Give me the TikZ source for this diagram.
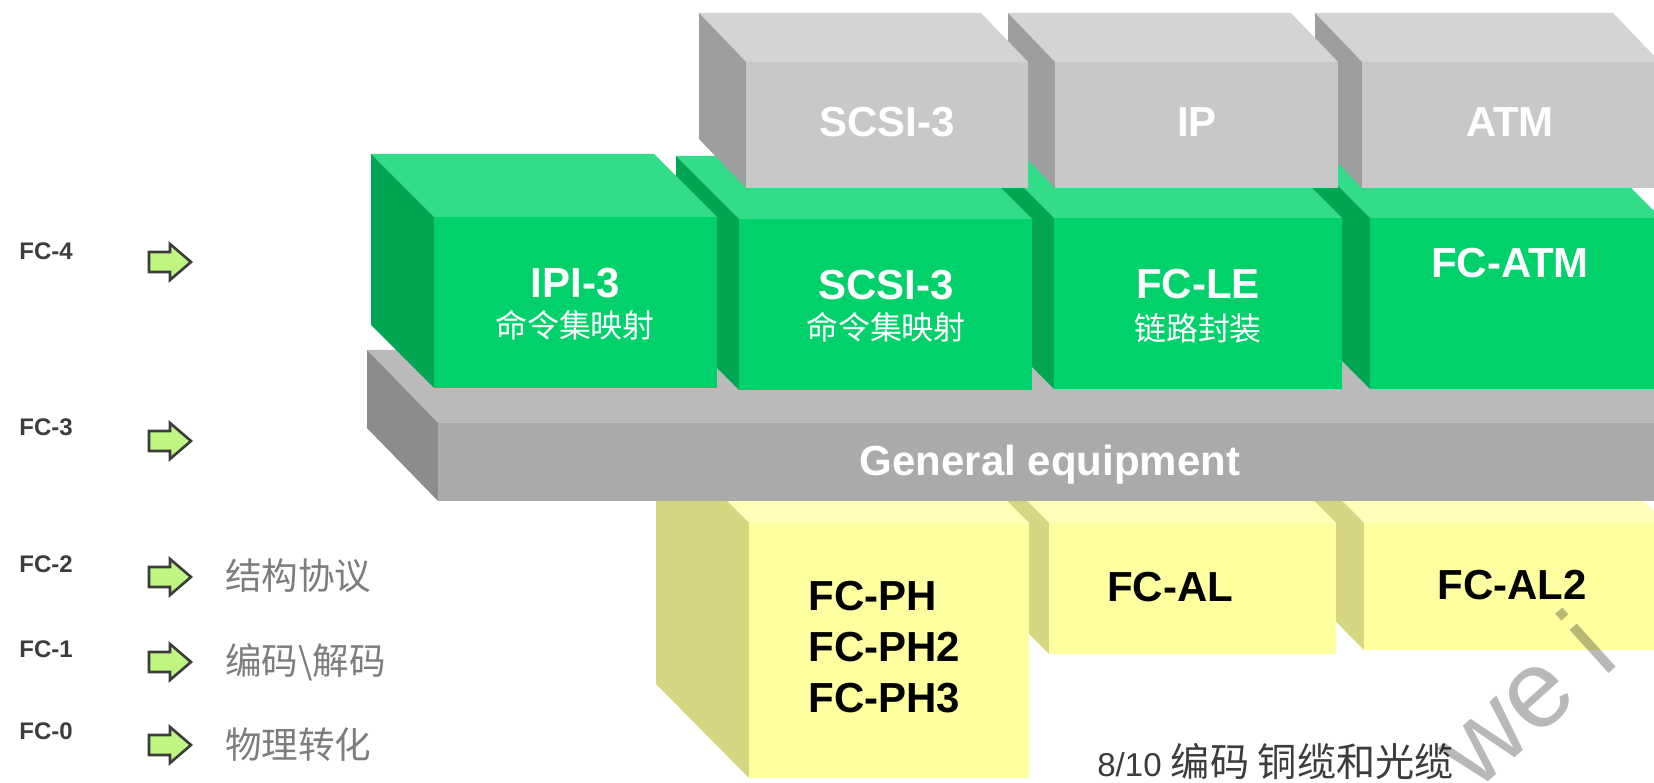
\documentclass[tikz,border=0pt]{standalone}
\usepackage{fontspec}
\setmainfont{Liberation Sans}
\newfontfamily\cjk{Noto Sans CJK SC}
\newcommand\fsz[1]{\fontsize{#1}{#1}\selectfont}
\definecolor{cGreyTop}{RGB}{212,212,212}
\definecolor{cGreyFront}{RGB}{200,200,200}
\definecolor{cGreySide}{RGB}{158,158,158}
\definecolor{cBandTop}{RGB}{186,186,186}
\definecolor{cBandFront}{RGB}{170,170,170}
\definecolor{cBandSide}{RGB}{140,140,140}
\definecolor{cGreenTop}{RGB}{50,220,136}
\definecolor{cGreenFront}{RGB}{0,209,106}
\definecolor{cGreenSide}{RGB}{0,166,82}
\definecolor{cYelTop}{RGB}{255,255,185}
\definecolor{cYelFront}{RGB}{255,255,160}
\definecolor{cYelSide}{RGB}{214,214,128}
\definecolor{cArrow}{RGB}{192,245,130}
\definecolor{cDark}{RGB}{60,60,60}
\definecolor{cMid}{RGB}{125,125,125}
% #1 x1, #2 y1 (front top), #3 x2, #4 y2 (front bottom), #5 dx, #6 dy, #7 style prefix
\newcommand\boxthree[7]{%
  \fill[#7top] ({#1-#5},{#2-#6}) -- ({#3-#5},{#2-#6}) -- (#3,#2) -- (#1,#2) -- cycle;
  \fill[#7side] ({#1-#5},{#2-#6}) -- (#1,#2) -- (#1,#4) -- ({#1-#5},{#4-#6}) -- cycle;
  \fill[#7front] (#1,#2) rectangle (#3,#4);
}
\newcommand\lvarrow[1]{%
  \filldraw[lvarr] (149,{#1-10}) -- (170,{#1-10}) -- (170,{#1-18}) -- (191,#1)
    -- (170,{#1+18}) -- (170,{#1+10}) -- (149,{#1+10}) -- cycle;
}
\begin{document}
\begin{tikzpicture}[x=0.02cm, y=-0.02cm,
  greytop/.style={fill=cGreyTop}, greyfront/.style={fill=cGreyFront}, greyside/.style={fill=cGreySide},
  bandtop/.style={fill=cBandTop}, bandfront/.style={fill=cBandFront}, bandside/.style={fill=cBandSide},
  greentop/.style={fill=cGreenTop}, greenfront/.style={fill=cGreenFront}, greenside/.style={fill=cGreenSide},
  yeltop/.style={fill=cYelTop}, yelfront/.style={fill=cYelFront}, yelside/.style={fill=cYelSide},
  lvarr/.style={fill=cArrow, draw=cDark, line width=1.5pt, line join=miter},
  boxlbl/.style={font=\bfseries\fsz{23.9pt}, text=white, anchor=base, inner sep=0pt},
  cjkw/.style={font=\cjk\fsz{18.2pt}, text=white, anchor=base, inner sep=0pt},
  yellbl/.style={font=\bfseries\fsz{23.9pt}, text=black, inner sep=0pt},
  fclbl/.style={font=\bfseries\fsz{13.66pt}, text=cDark, anchor=base west, inner sep=0pt},
  leftcjk/.style={font=\cjk\fsz{20.8pt}, text=cMid, anchor=base west, inner sep=0pt}]
\useasboundingbox (0,0) rectangle (1654,783);
\fill[white] (0,0) rectangle (1654,783);
\clip (0,0) rectangle (1654,783);

% yellow row (FC-0/1/2)
\boxthree{1364}{523}{1665}{650}{93}{94}{yel}
\boxthree{1049}{523}{1336}{654}{93}{94}{yel}
\boxthree{749}{523}{1029}{778}{93}{94}{yel}

% general band (FC-3)
\boxthree{438}{423}{1690}{501}{71}{73}{band}

% green row (FC-4)
\boxthree{1370}{218}{1661}{389}{63}{63}{green}
\boxthree{1054}{218}{1342}{389}{63}{63}{green}
\boxthree{739}{219}{1032}{390}{63}{63}{green}
\boxthree{434}{217}{717}{388}{63}{63}{green}

% grey upper-layer protocols
\boxthree{1362}{62}{1660}{188}{47}{49}{grey}
\boxthree{1055}{62}{1338}{188}{47}{49}{grey}
\boxthree{746}{62}{1028}{188}{47}{49}{grey}

% labels on boxes
\node[boxlbl] (g1) at (887,137) {SCSI-3};
\node[boxlbl] (g2) at (1197,137) {IP};
\node[boxlbl] (g3) at (1510,137) {ATM};

\node[boxlbl] (e1) at (575,298) {IPI-3};
\node[cjkw] (e1c) at (575,338) {命令集映射};
\node[boxlbl] (e2) at (886,300) {SCSI-3};
\node[cjkw] (e2c) at (886,340) {命令集映射};
\node[boxlbl] (e3) at (1198,299) {FC-LE};
\node[cjkw] (e3c) at (1198,341) {链路封装};
\node[boxlbl] (e4) at (1510,278) {FC-ATM};

\node[boxlbl] (band) at (1050,476) {General equipment};

\node[yellbl, anchor=base west] (y1a) at (808,611) {FC-PH};
\node[yellbl, anchor=base west] (y1b) at (808,662) {FC-PH2};
\node[yellbl, anchor=base west] (y1c) at (808,713) {FC-PH3};
\node[yellbl, anchor=base] (y2) at (1170,602) {FC-AL};
\node[yellbl, anchor=base] (y3) at (1512,600) {FC-AL2};

\node[anchor=base west, inner sep=0pt, font=\fsz{18.8pt}, text=cDark] (note) at (1097,776)
  {8/10 {\cjk\fsz{22.3pt}编码 铜缆和光缆}};

% left legend
\node[fclbl] (fc4) at (19,260) {FC-4};
\node[fclbl] (fc3) at (19,436) {FC-3};
\node[fclbl] (fc2) at (19,573) {FC-2};
\node[fclbl] (fc1) at (19,658) {FC-1};
\node[fclbl] (fc0) at (19,740) {FC-0};
\lvarrow{262}
\lvarrow{441}
\lvarrow{577}
\lvarrow{662}
\lvarrow{745}
\node[leftcjk] (l2) at (225,590) {结构协议};
\node[leftcjk] (l1) at (225,675) {编码\textbackslash 解码};
\node[leftcjk] (l0) at (225,758) {物理转化};

% watermark
\node[anchor=base west, inner sep=0pt, rotate=42, font=\fsz{62.6pt}, text=black, text opacity=0.28] (wm) at (1476,793) {we i};
\end{tikzpicture}
\end{document}
